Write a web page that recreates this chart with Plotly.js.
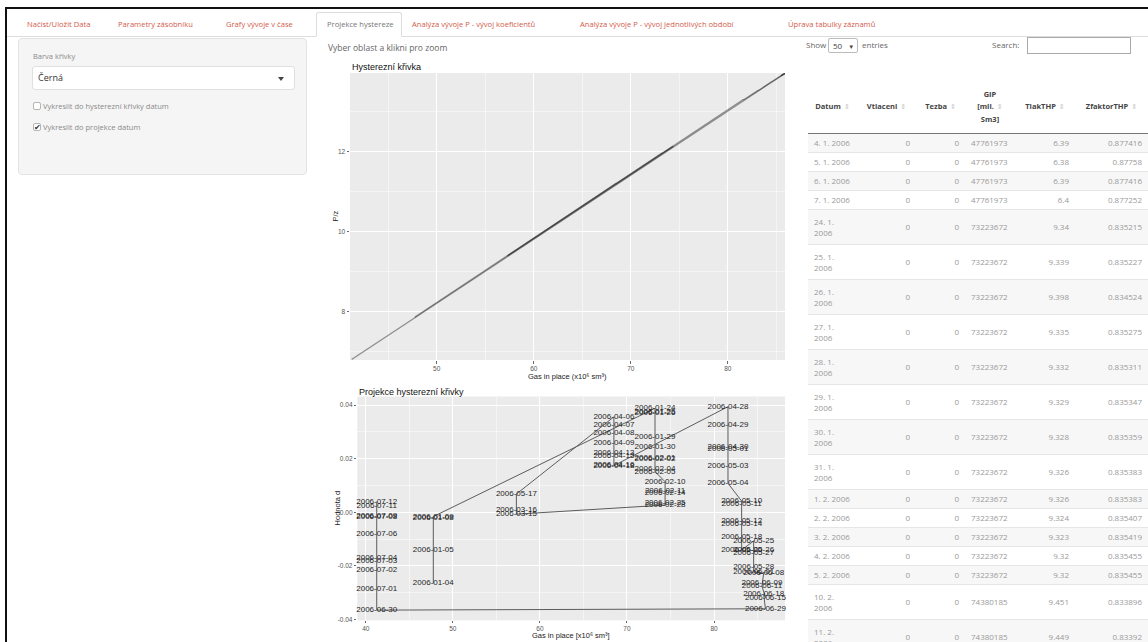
<!DOCTYPE html>
<html><head><meta charset="utf-8">
<script src="https://cdn.plot.ly/plotly-3.0.1.min.js"></script>
<style>
*{box-sizing:border-box}
body{margin:0;width:1148px;height:642px;overflow:hidden;background:#fff;font-family:"Open Sans",sans-serif;position:relative}
.a{position:absolute}
#frameTop{left:5px;top:7px;width:1143px;height:2px;background:#111}
#frameLeft{left:5px;top:7px;width:2px;height:635px;background:#111}
#tabline{left:7px;top:36px;width:1141px;height:1px;background:#ddd}
.tab{position:absolute;top:18px;font-size:7.6px;line-height:12px;color:#d25a4a;white-space:nowrap}
#activeTab{left:316px;top:12px;width:86px;height:25px;border:1px solid #ddd;border-bottom:1px solid #fff;background:#fff;border-radius:3px 3px 0 0}
#well{left:18px;top:38px;width:289px;height:137px;background:#f5f5f5;border:1px solid #e3e3e3;border-radius:4px}
.lbl{position:absolute;font-size:7.5px;line-height:10px;color:#8a8a8a;white-space:nowrap}
#sel{left:32px;top:66px;width:263px;height:24px;background:#fff;border:1px solid #e0e0e0;border-radius:3px}
#selText{left:38px;top:72px;font-size:9px;line-height:12px;color:#333}
#caret{left:278px;top:77px;width:0;height:0;border-left:3px solid transparent;border-right:3px solid transparent;border-top:4px solid #444}
.cb{position:absolute;width:8px;height:8px;border:1px solid #b5b5b5;border-radius:2px;background:#fff}
.ck{position:absolute;font-size:8px;line-height:8px;color:#333}
#hint{left:328px;top:42px;font-size:8.5px;line-height:12px;color:#666;white-space:nowrap}
#plot{left:325px;top:30px;width:475px;height:612px}
#show{left:806px;top:39px;font-size:8px;line-height:12px;color:#666;white-space:nowrap}
#lenSel{left:828px;top:38px;width:30px;height:15px;border:1px solid #bbb;border-radius:2px;background:#fff;font-size:8px;line-height:13px;padding-left:4px;color:#444}
#entries{left:862px;top:39px;font-size:8px;line-height:12px;color:#666}
#search{left:992px;top:39px;font-size:8px;line-height:12px;color:#666}
#searchBox{left:1027px;top:37px;width:104px;height:17px;border:1px solid #aaa;background:#fff}
#dt{left:808px;top:80px;width:340px}
table{border-collapse:collapse;table-layout:fixed;width:340px;font-family:"Open Sans",sans-serif}
th{font-size:7.5px;line-height:12px;font-weight:bold;color:#444;text-align:center;vertical-align:middle;height:53px;border-bottom:1.5px solid #777;padding:0 2px;white-space:nowrap}
th .si{color:#d0d0d0;font-family:"DejaVu Sans";font-size:7px;margin-left:3px}
td{font-size:8px;line-height:11px;color:#9a9a9a;vertical-align:middle;padding:0 6px;border-top:1px solid #e6e6e6;white-space:nowrap}
tr.odd td{background:#f7f7f7}
td.r{text-align:right}
td.l{text-align:left}
</style></head><body>
<div class="a" id="frameTop"></div><div class="a" id="frameLeft"></div>
<div class="a" id="tabline"></div>
<div class="a" id="activeTab"></div>
<div id="tabs"></div>
<div class="a" id="well"></div>
<div class="lbl" style="left:33px;top:51px">Barva křivky</div>
<div class="a" id="sel"></div><div class="a" id="selText">Černá</div><div class="a" id="caret"></div>
<div class="cb" style="left:33px;top:102px"></div>
<div class="lbl" style="left:43px;top:101px">Vykreslit do hysterezní křivky datum</div>
<div class="cb" style="left:33px;top:123px"></div><div class="ck" style="left:34px;top:123px">✔</div>
<div class="lbl" style="left:43px;top:122px">Vykreslit do projekce datum</div>
<div class="a" id="hint">Vyber oblast a klikni pro zoom</div>
<div class="a" id="plot"></div>
<div class="a" id="show">Show</div><div class="a" id="lenSel">50 <span style="font-size:6px;margin-left:4px">▼</span></div><div class="a" id="entries">entries</div>
<div class="a" id="search">Search:</div><div class="a" id="searchBox"></div>
<div class="a" id="dt"></div>
<script>
// ---- tabs ----
const tabNames = ["Načíst/Uložit Data","Parametry zásobníku","Grafy vývoje v čase","Projekce hystereze","Analýza vývoje P - vývoj koeficientů","Analýza vývoje P - vývoj jednotlivých období","Úprava tabulky záznamů"];
const tabLeft = [27,118,226,327,412,580,788];
const activeTab = 3;
tabNames.forEach((t,i)=>{const d=document.createElement('div');d.className='tab';d.style.left=tabLeft[i]+'px';if(i===activeTab)d.style.color='#777';d.textContent=t;document.getElementById('tabs').appendChild(d);});

// ---- projection data (date labels, gas in place [x10^6 sm3], deviation d, P/z) ----
const dates = ["2006-01-04","2006-01-05","2006-01-08","2006-01-09","2006-01-24","2006-01-25","2006-01-26","2006-01-29","2006-01-30","2006-02-01","2006-02-02","2006-02-04","2006-02-05","2006-02-10","2006-02-11","2006-02-14","2006-02-25","2006-02-28","2006-03-15","2006-03-16","2006-05-17","2006-04-06","2006-04-07","2006-04-08","2006-04-09","2006-04-13","2006-04-15","2006-04-16","2006-04-18","2006-04-28","2006-04-29","2006-04-30","2006-05-01","2006-05-03","2006-05-04","2006-05-10","2006-05-11","2006-05-12","2006-05-14","2006-05-18","2006-05-20","2006-05-25","2006-05-26","2006-05-27","2006-05-28","2006-06-01","2006-06-08","2006-06-09","2006-06-11","2006-06-15","2006-06-18","2006-06-29","2006-06-30","2006-07-01","2006-07-02","2006-07-03","2006-07-04","2006-07-06","2006-07-08","2006-07-09","2006-07-11","2006-07-12"];
const gasInPlace = [47.76,47.76,47.76,47.76,73.22,73.22,73.22,73.22,73.22,73.22,73.22,73.22,73.22,74.38,74.38,74.38,74.38,74.38,57.30,57.30,57.30,68.50,68.50,68.50,68.50,68.50,68.50,68.50,68.50,81.60,81.60,81.60,81.60,81.60,81.60,83.17,83.17,83.17,83.17,83.17,83.17,84.55,84.55,84.55,84.55,84.55,85.70,85.50,85.50,85.90,85.70,85.90,41.26,41.26,41.26,41.26,41.26,41.26,41.26,41.26,41.26,41.26];
const hodnotaD = [-0.0265,-0.0141,-0.0021,-0.0016,0.0388,0.0374,0.0370,0.0282,0.0243,0.0203,0.0199,0.0162,0.0152,0.0114,0.0079,0.0071,0.0034,0.0027,-0.0007,0.0009,0.0068,0.0356,0.0326,0.0297,0.0260,0.0220,0.0211,0.0178,0.0174,0.0394,0.0326,0.0245,0.0235,0.0173,0.0108,0.0042,0.0030,-0.0033,-0.0044,-0.0091,-0.0141,-0.0107,-0.0142,-0.0152,-0.0203,-0.0222,-0.0228,-0.0262,-0.0275,-0.0318,-0.0305,-0.0360,-0.0365,-0.0286,-0.0214,-0.0183,-0.0169,-0.0081,-0.0018,-0.0013,0.0024,0.0040];
const pz = [7.852,7.859,7.865,7.865,11.959,11.958,11.958,11.953,11.951,11.949,11.949,11.947,11.947,12.131,12.129,12.128,12.127,12.126,9.392,9.392,9.395,11.202,11.200,11.199,11.197,11.195,11.195,11.193,11.193,13.300,13.296,13.292,13.292,13.289,13.285,13.533,13.533,13.530,13.529,13.527,13.524,13.747,13.745,13.744,13.742,13.741,13.925,13.891,13.890,13.952,13.921,13.950,6.807,6.811,6.815,6.816,6.817,6.822,6.825,6.825,6.827,6.828];

// ---- axis ticks ----
const dTickVals = [-0.04,-0.02,0,0.02,0.04];
const dTickText = ["-0.04","-0.02","0.00","0.02","0.04"];

// ---- table data ----
const tDatum = ["4. 1. 2006","5. 1. 2006","6. 1. 2006","7. 1. 2006","24. 1. 2006","25. 1. 2006","26. 1. 2006","27. 1. 2006","28. 1. 2006","29. 1. 2006","30. 1. 2006","31. 1. 2006","1. 2. 2006","2. 2. 2006","3. 2. 2006","4. 2. 2006","5. 2. 2006","10. 2. 2006","11. 2. 2006"];
const tVtlaceni = [0,0,0,0,0,0,0,0,0,0,0,0,0,0,0,0,0,0,0];
const tTezba = [0,0,0,0,0,0,0,0,0,0,0,0,0,0,0,0,0,0,0];
const tGIP = [47761973,47761973,47761973,47761973,73223672,73223672,73223672,73223672,73223672,73223672,73223672,73223672,73223672,73223672,73223672,73223672,73223672,74380185,74380185];
const tTlak = [6.39,6.38,6.39,6.4,9.34,9.339,9.398,9.335,9.332,9.329,9.328,9.326,9.326,9.324,9.323,9.32,9.32,9.451,9.449];
const tZfaktor = [0.877416,0.87758,0.877416,0.877252,0.835215,0.835227,0.834524,0.835275,0.835311,0.835347,0.835359,0.835383,0.835383,0.835407,0.835419,0.835455,0.835455,0.833896,0.83392];

// build table
(function(){
  const si = '<span class="si">⇕</span>';
  let h = '<table><colgroup><col style="width:49px"><col style="width:59px"><col style="width:49px"><col style="width:50px"><col style="width:60px"><col style="width:73px"></colgroup>';
  h += '<thead><tr><th>Datum'+si+'</th><th>Vtlaceni'+si+'</th><th>Tezba'+si+'</th><th>GIP<br>[mil.'+si+'<br>Sm3]</th><th>TlakTHP'+si+'</th><th>ZfaktorTHP'+si+'</th></tr></thead><tbody>';
  tDatum.forEach((d,i)=>{
    const two = d.length>10;
    const ds = two ? d.replace(/ (\d{4})$/,'<br>$1') : d;
    h += '<tr class="'+(i%2===0?'odd':'even')+'" style="height:'+(two?35:19)+'px"><td class="l">'+ds+'</td><td class="r">'+tVtlaceni[i]+'</td><td class="r">'+tTezba[i]+'</td><td class="l">'+tGIP[i]+'</td><td class="r">'+tTlak[i]+'</td><td class="r">'+tZfaktor[i]+'</td></tr>';
  });
  h += '</tbody></table>';
  document.getElementById('dt').innerHTML = h;
})();

// ---- plot ----
const traces = [];
for (let i=0;i<gasInPlace.length-1;i++){
  traces.push({x:[gasInPlace[i],gasInPlace[i+1]], y:[pz[i],pz[i+1]], mode:'lines', line:{color:'rgba(50,50,50,0.5)', width:1.3}, xaxis:'x', yaxis:'y', hoverinfo:'skip', showlegend:false});
}
traces.push({x:gasInPlace, y:hodnotaD, mode:'lines', line:{color:'#5c5c5c', width:1}, xaxis:'x2', yaxis:'y2', hoverinfo:'skip', showlegend:false});
traces.push({x:gasInPlace, y:hodnotaD, mode:'text', text:dates, textposition:'middle center', textfont:{family:'Liberation Sans, Arial, sans-serif', size:8, color:'#1e1e1e'}, cliponaxis:false, xaxis:'x2', yaxis:'y2', hoverinfo:'skip', showlegend:false});

const tickFont = {family:'Liberation Sans, Arial, sans-serif', size:6.5, color:'#555'};
const axBase = {ticks:'outside', ticklen:2.5, tickwidth:0.8, tickcolor:'#444', showgrid:true, gridcolor:'#ffffff', gridwidth:1, zeroline:false, showline:false, tickfont:tickFont, fixedrange:true};
const minorG = (dt)=>({dtick:dt, tick0:0, showgrid:true, gridcolor:'#ffffff', gridwidth:0.5});
const W=475, H=612, OX=325, OY=30;
const px = v => (v-OX)/W, py = v => (H+OY-v)/H;

const layout = {
  width:W, height:H, margin:{l:0,r:0,t:0,b:0}, paper_bgcolor:'rgba(0,0,0,0)', plot_bgcolor:'#EBEBEB', showlegend:false,
  xaxis:Object.assign({}, axBase, {domain:[px(350),px(785)], range:[41.06,85.9], tick0:0, dtick:10, minor:minorG(5), anchor:'y'}),
  yaxis:Object.assign({}, axBase, {domain:[py(360),py(73)], range:[6.79,13.96], tick0:0, dtick:2, minor:minorG(1), anchor:'x'}),
  xaxis2:Object.assign({}, axBase, {domain:[px(357.3),px(785)], range:[39.03,88.15], tick0:0, dtick:10, ticklen:2, minor:minorG(5), anchor:'y2'}),
  yaxis2:Object.assign({}, axBase, {domain:[py(620.3),py(396.5)], range:[-0.0403,0.0432], tickmode:'array', tickvals:dTickVals, ticktext:dTickText, minor:{tickmode:'linear', tick0:0, dtick:0.01, showgrid:true, gridcolor:'#ffffff', gridwidth:0.5}, anchor:'x2'}),
  annotations:[
    {text:'Hysterezní křivka', xref:'paper', yref:'paper', x:px(350), y:py(66.5), xanchor:'left', yanchor:'middle', showarrow:false, font:{family:'Liberation Sans, Arial', size:9, color:'#111'}},
    {text:'Projekce hysterezní křivky', xref:'paper', yref:'paper', x:px(357), y:py(391.5), xanchor:'left', yanchor:'middle', showarrow:false, font:{family:'Liberation Sans, Arial', size:9, color:'#111'}},
    {text:'Gas in place (x10⁶ sm³)', xref:'paper', yref:'paper', x:px(567.5), y:py(376), xanchor:'center', yanchor:'middle', showarrow:false, font:{family:'Liberation Sans, Arial', size:7.5, color:'#222'}},
    {text:'Gas in place [x10⁶ sm³]', xref:'paper', yref:'paper', x:px(571), y:py(635.5), xanchor:'center', yanchor:'middle', showarrow:false, font:{family:'Liberation Sans, Arial', size:7.5, color:'#222'}},
    {text:'P/z', xref:'paper', yref:'paper', x:px(335), y:py(216.5), xanchor:'center', yanchor:'middle', textangle:-90, showarrow:false, font:{family:'Liberation Sans, Arial', size:7.5, color:'#222'}},
    {text:'Hodnota d', xref:'paper', yref:'paper', x:px(337), y:py(508.4), xanchor:'center', yanchor:'middle', textangle:-90, showarrow:false, font:{family:'Liberation Sans, Arial', size:7.5, color:'#222'}}
  ]
};
Plotly.newPlot('plot', traces, layout, {displayModeBar:false, staticPlot:true});
</script>
</body></html>
